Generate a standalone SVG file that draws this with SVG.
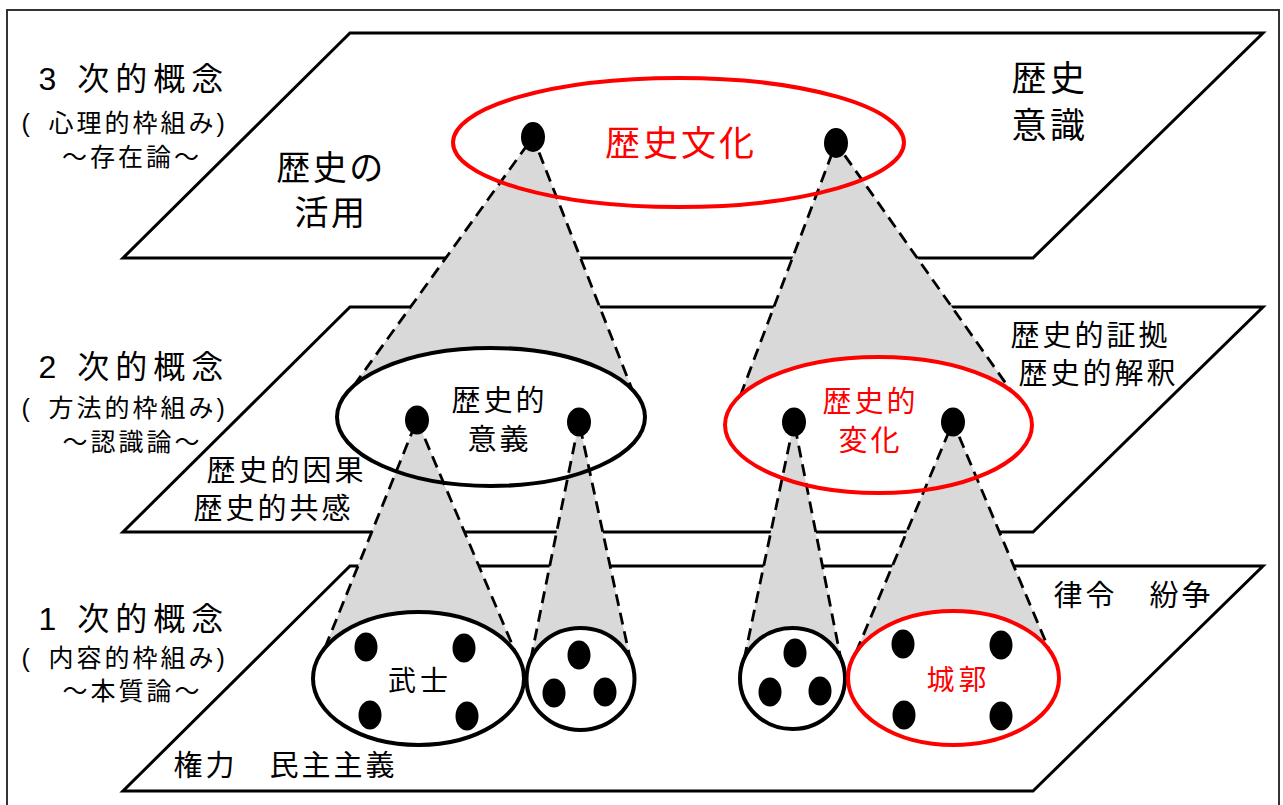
<svg xmlns="http://www.w3.org/2000/svg" width="1283" height="805" viewBox="0 0 1283 805">
<style>
.frame{fill:#fff;stroke:#333;stroke-width:2}
.plane{fill:#fff;stroke:#000;stroke-width:3}
.cone{fill:#d9d9d9;stroke:none}
.dash{fill:none;stroke:#000;stroke-width:2.8;stroke-dasharray:12 7}
.ring{fill:none;stroke:#000;stroke-width:4}
.ringw{fill:#fff;stroke:#000;stroke-width:4}
.red{stroke:#ff0000}
.dot{fill:#000}
.jp{font-family:'Noto Sans CJK JP','Noto Sans CJK SC',sans-serif;fill:#000}
.mix{font-family:'Liberation Sans','Noto Sans CJK JP',sans-serif;fill:#000}
.c{text-anchor:middle}
.rt{fill:#ff0000}
.lv{font-size:32px;letter-spacing:6px}
.sub{font-size:25px;letter-spacing:3px}
.t29{font-size:29px;letter-spacing:3px}
</style>
<rect class="frame" x="7" y="10" width="1272" height="820"/>

<g id="plane-3">
  <polygon class="plane" points="350,33 1263,33 1033,258 123,258"/>
  <text class="mix lv" x="38.5" y="90">3 次的概念</text>
  <text class="mix sub" y="131.5"><tspan x="21.5">( </tspan><tspan x="48.5">心理的枠組み)</tspan></text>
  <text class="jp sub c" x="132" y="165.5">～存在論～</text>
  <text class="jp c" x="331" y="180" font-size="34" letter-spacing="2.5">歴史の</text>
  <text class="jp c" x="331" y="225" font-size="34" letter-spacing="2.5">活用</text>
  <text class="jp c" x="1050" y="91" font-size="35" letter-spacing="3.5">歴史</text>
  <text class="jp c" x="1050" y="138" font-size="35" letter-spacing="3.5">意識</text>
</g>

<g id="plane-2">
  <polygon class="plane" points="350,307 1263,307 1033,532 123,532"/>
  <text class="mix lv" x="38.5" y="378">2 次的概念</text>
  <text class="mix sub" y="416.5"><tspan x="21.5">( </tspan><tspan x="48.5">方法的枠組み)</tspan></text>
  <text class="jp sub c" x="132.5" y="450.5">～認識論～</text>
  <text class="jp t29" x="206.5" y="480.5">歴史的因果</text>
  <text class="jp t29" x="193.5" y="518.5">歴史的共感</text>
  <text class="jp t29" x="1010.5" y="345.5">歴史的証拠</text>
  <text class="jp t29" x="1018.5" y="383.5">歴史的解釈</text>
</g>

<g id="plane-1">
  <polygon class="plane" points="350,566 1263,566 1033,791 123,791"/>
  <text class="mix lv" x="38.5" y="630">1 次的概念</text>
  <text class="mix sub" y="667"><tspan x="21.5">( </tspan><tspan x="48.5">内容的枠組み)</tspan></text>
  <text class="jp sub c" x="132.5" y="700">～本質論～</text>
  <text class="jp t29" x="1053.5" y="606">律令　紛争</text>
  <text class="jp t29" x="173.5" y="776">権力　民主主義</text>
</g>

<g id="connectors">
  <path class="cone" d="M533,137 L353.9,385.5 A154,69 0 0 1 632,389.2 Z"/>
  <path class="dash" d="M353.9,385.5 L533,137 L632,389.2"/>
  <path class="cone" d="M836,143 L740.4,395.4 A153.5,68 0 0 1 1011,390.7 Z"/>
  <path class="dash" d="M740.4,395.4 L836,143 L1011,390.7"/>
  <path class="cone" d="M417,420 L325,647.7 A105.5,66.5 0 0 1 515.5,652.4 Z"/>
  <path class="dash" d="M325,647.7 L417,420 L515.5,652.4"/>
  <path class="cone" d="M579,422 L530.8,659 A54,51 0 0 1 630.2,659 Z"/>
  <path class="dash" d="M530.8,659 L579,422 L630.2,659"/>
  <path class="cone" d="M794,422 L744.2,658.7 A52.5,50.5 0 0 1 840.8,658.7 Z"/>
  <path class="dash" d="M744.2,658.7 L794,422 L840.8,658.7"/>
  <path class="cone" d="M953,422 L856,652.4 A105.5,67 0 0 1 1049,649.5 Z"/>
  <path class="dash" d="M856,652.4 L953,422 L1049,649.5"/>
</g>

<g id="node-rekishi-bunka">
  <ellipse class="ring red" cx="678.5" cy="142.5" rx="225.5" ry="64.5"/>
  <ellipse class="dot" cx="533" cy="137" rx="12" ry="15"/>
  <ellipse class="dot" cx="836" cy="143" rx="12" ry="15"/>
  <text class="jp c rt" x="681" y="156" font-size="35" letter-spacing="3">歴史文化</text>
</g>

<g id="node-rekishiteki-igi">
  <ellipse class="ring" cx="491" cy="417" rx="154" ry="69"/>
  <ellipse class="dot" cx="417" cy="420" rx="12" ry="14.5"/>
  <ellipse class="dot" cx="579" cy="422" rx="12" ry="14.5"/>
  <text class="jp t29 c" x="499.5" y="411">歴史的</text>
  <text class="jp t29 c" x="499.5" y="450">意義</text>
</g>

<g id="node-rekishiteki-henka">
  <ellipse class="ring red" cx="878.5" cy="425" rx="153.5" ry="68"/>
  <ellipse class="dot" cx="794" cy="422" rx="12" ry="14.5"/>
  <ellipse class="dot" cx="953" cy="422" rx="12" ry="14.5"/>
  <text class="jp t29 c rt" x="870.5" y="411.5">歴史的</text>
  <text class="jp t29 c rt" x="870.5" y="450.5">変化</text>
</g>

<g id="node-bushi">
  <ellipse class="ringw" cx="418.5" cy="678.5" rx="105.5" ry="66.5"/>
  <ellipse class="dot" cx="366" cy="647" rx="11.5" ry="14.5"/>
  <ellipse class="dot" cx="464" cy="648" rx="11.5" ry="14.5"/>
  <ellipse class="dot" cx="370" cy="715" rx="11.5" ry="14.5"/>
  <ellipse class="dot" cx="467" cy="716" rx="11.5" ry="14.5"/>
  <text class="jp c" x="420" y="690.5" font-size="28" letter-spacing="4">武士</text>
</g>

<g id="node-group-a">
  <ellipse class="ringw" cx="580.5" cy="679" rx="54" ry="51"/>
  <ellipse class="dot" cx="579" cy="655" rx="11.5" ry="14.5"/>
  <ellipse class="dot" cx="554" cy="693" rx="11.5" ry="14.5"/>
  <ellipse class="dot" cx="605" cy="692" rx="11.5" ry="14.5"/>
</g>

<g id="node-group-b">
  <ellipse class="ringw" cx="792.5" cy="678.5" rx="52.5" ry="50.5"/>
  <ellipse class="dot" cx="795" cy="653" rx="11.5" ry="14.5"/>
  <ellipse class="dot" cx="770" cy="692" rx="11.5" ry="14.5"/>
  <ellipse class="dot" cx="820" cy="691" rx="11.5" ry="14.5"/>
</g>

<g id="node-jokaku">
  <ellipse class="ringw red" cx="953.5" cy="678" rx="105.5" ry="67"/>
  <ellipse class="dot" cx="903" cy="644" rx="11.5" ry="14.5"/>
  <ellipse class="dot" cx="1001" cy="645" rx="11.5" ry="14.5"/>
  <ellipse class="dot" cx="904" cy="715" rx="11.5" ry="14.5"/>
  <ellipse class="dot" cx="1001" cy="716" rx="11.5" ry="14.5"/>
  <text class="jp c rt" x="958.5" y="690" font-size="28" letter-spacing="4">城郭</text>
</g>
</svg>
